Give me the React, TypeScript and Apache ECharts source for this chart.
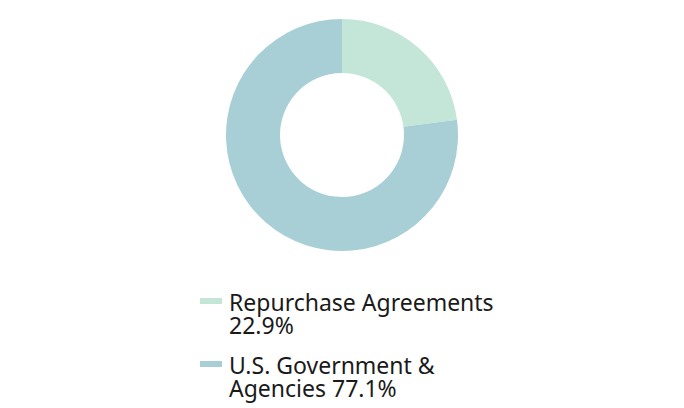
import * as echarts from "echarts";
import { useEffect, useRef } from "react";

const categories = ["Repurchase Agreements", "U.S. Government & Agencies"];
const legendLabels = ["Repurchase Agreements\n22.9%", "U.S. Government &\nAgencies 77.1%"];
const values = [22.9, 77.1];
const colors = ["#c3e6d8", "#a7cfd5"];

// legend swatch sits level with the first text line
const swatch = "path://M0,7.5h22v6h-22zM0,0h22M0,46h22";

export default function App() {
  const ref = useRef<HTMLDivElement>(null);

  useEffect(() => {
    if (!ref.current) return;
    const chart = echarts.init(ref.current, undefined, { renderer: "svg" });

    chart.setOption({
      animation: false,
      textStyle: { fontFamily: "Noto Sans" },
      legend: {
        orient: "vertical",
        left: 200,
        top: 290.5,
        height: 117,
        padding: 0,
        itemGap: 17,
        itemWidth: 22,
        itemHeight: 46,
        icon: swatch,
        itemStyle: { borderWidth: 0 },
        selectedMode: false,
        formatter: (name: string) => legendLabels[categories.indexOf(name)],
        textStyle: {
          fontSize: 23,
          lineHeight: 23,
          color: "#1a1a1a",
          fontFamily: "Noto Sans",
          padding: [0, 0, 0, 2]
        }
      },
      series: [
        {
          type: "pie",
          center: [342, 135],
          radius: [62, 116],
          startAngle: 90,
          label: { show: false },
          labelLine: { show: false },
          emphasis: { disabled: true },
          data: categories.map((name, i) => ({
            name,
            value: values[i],
            itemStyle: { color: colors[i] }
          }))
        }
      ]
    });

    return () => chart.dispose();
  }, []);

  return (
    <div
      ref={ref}
      style={{ position: "fixed", left: 0, top: 0, width: 684, height: 408, background: "#fff" }}
    />
  );
}
